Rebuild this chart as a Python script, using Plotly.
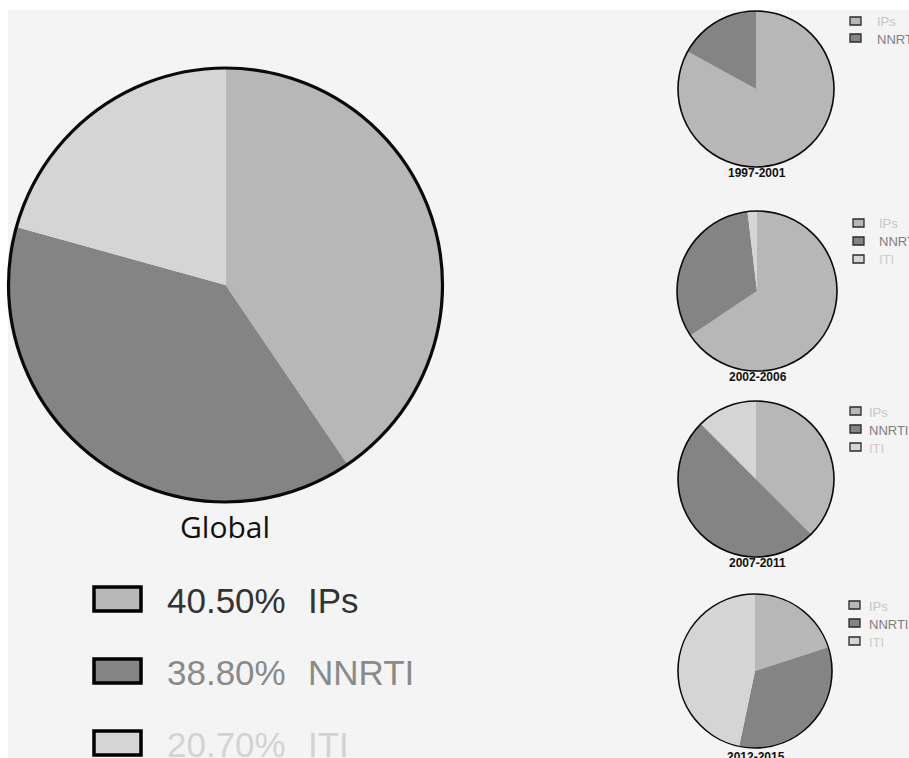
import plotly.graph_objects as go

# ---- data ---------------------------------------------------------------
categories = ["IPs", "NNRTI", "ITI"]
global_share = [40.5, 38.8, 20.7]

periods = ["1997-2001", "2002-2006", "2007-2011", "2012-2015"]
ips_share = [83.0, 65.6, 37.5, 20.0]
nnrti_share = [17.0, 32.5, 50.0, 33.3]
iti_share = [0.0, 1.9, 12.5, 46.7]

# ---- styling ------------------------------------------------------------
W, H = 909, 758
slice_colors = ["#b7b7b7", "#848484", "#d5d5d5"]
big_text_colors = ["#333333", "#8a8a8a", "#d3d3d3"]
small_text_colors = ["#c6c6c6", "#7e7e7e", "#cccccc"]
bg = "#f4f4f4"


def px(x):
    return x / W


def py(y):
    return 1 - y / H


fig = go.Figure()
shapes = []
annotations = []

# light panel behind everything
shapes.append(dict(type="rect", xref="paper", yref="paper", layer="below",
                   x0=px(8), x1=1, y0=0, y1=py(10),
                   fillcolor=bg, line=dict(width=0)))


def add_pie(values, cx, cy, r, outline_w):
    fig.add_trace(go.Pie(
        labels=categories, values=values, sort=False, direction="clockwise",
        rotation=0, textinfo="none", hoverinfo="label+percent",
        marker=dict(colors=slice_colors, line=dict(width=0)),
        domain=dict(x=[px(cx - r), px(cx + r)], y=[py(cy + r), py(cy - r)]),
        showlegend=False,
    ))
    shapes.append(dict(type="circle", xref="paper", yref="paper", layer="above",
                       x0=px(cx - r), x1=px(cx + r), y0=py(cy + r), y1=py(cy - r),
                       line=dict(color="#0a0a0a", width=outline_w)))


def label(x, y, text, size, color, family="Liberation Sans, Arial", anchor="left"):
    annotations.append(dict(x=px(x), y=py(y), xref="paper", yref="paper",
                            text=text, showarrow=False, xanchor=anchor, yanchor="middle",
                            font=dict(family=family, size=size, color=color)))


# ---- global pie ---------------------------------------------------------
add_pie(global_share, 225.5, 285, 217, 3.2)
label(225, 526, "Global", 30, "#111111", family="Open Sans", anchor="center")

row_y = [599, 671, 743]
for i, name in enumerate(categories):
    yc = row_y[i]
    shapes.append(dict(type="rect", xref="paper", yref="paper", layer="above",
                       x0=px(94), x1=px(141), y0=py(yc + 12), y1=py(yc - 12),
                       fillcolor=slice_colors[i], line=dict(color="#000000", width=3.5)))
    label(165, yc + 1, f"{global_share[i]:.2f}%", 35, big_text_colors[i])
    label(306, yc + 1, name, 35, big_text_colors[i])

# ---- period pies --------------------------------------------------------
centers = [(756, 89, 78), (757, 291, 80), (756, 479, 78), (755, 671, 77)]
title_y = [173, 377, 563, 757]
legend_rows = [[21, 38], [223, 241, 259], [411, 429, 447], [605, 623, 641]]
legend_box_x = [850, 853, 850, 849]
legend_text_x = [875, 877, 867, 867]

for k, period in enumerate(periods):
    vals = [ips_share[k], nnrti_share[k], iti_share[k]]
    cx, cy, r = centers[k]
    add_pie(vals, cx, cy, r, 1.6)
    label(cx + 1, title_y[k], f"<b>{period}</b>", 12, "#111111", anchor="center")
    present = [i for i, v in enumerate(vals) if v > 0]
    for j, i in enumerate(present):
        yc = legend_rows[k][j]
        bx = legend_box_x[k]
        shapes.append(dict(type="rect", xref="paper", yref="paper", layer="above",
                           x0=px(bx), x1=px(bx + 11), y0=py(yc + 4), y1=py(yc - 4),
                           fillcolor=slice_colors[i], line=dict(color="#2a2a2a", width=1.3)))
        label(legend_text_x[k], yc + 1, categories[i], 13, small_text_colors[i])

fig.update_layout(
    width=W, height=H, margin=dict(l=0, r=0, t=0, b=0),
    paper_bgcolor="#ffffff", plot_bgcolor="#ffffff",
    shapes=shapes, annotations=annotations,
)

fig.write_html("out.html", config={"displayModeBar": False})
